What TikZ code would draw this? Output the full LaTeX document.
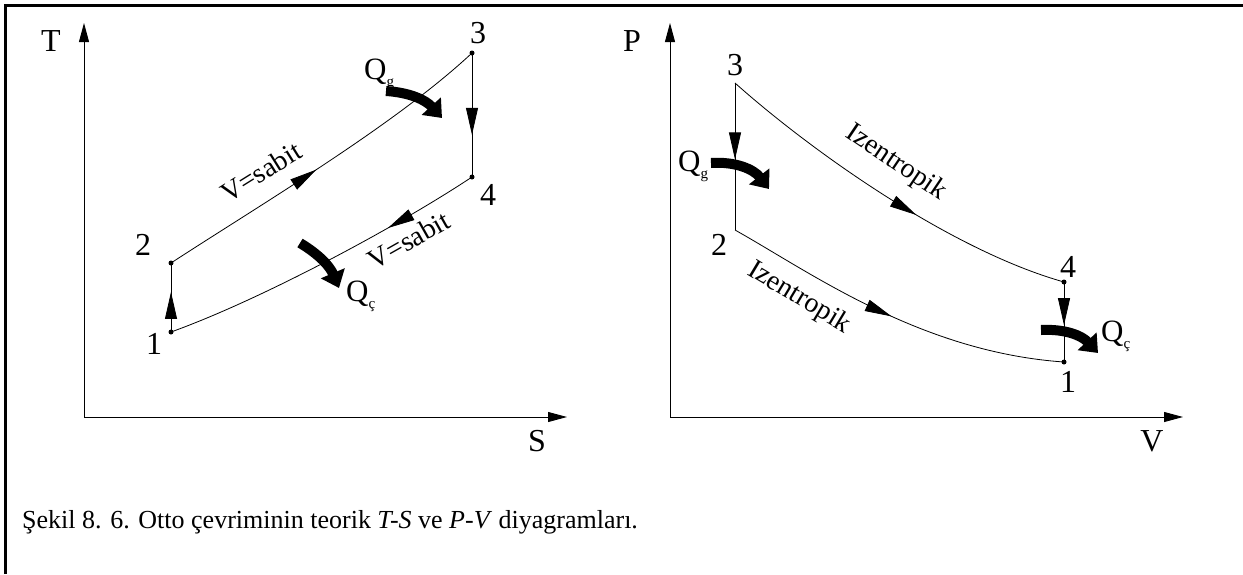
\documentclass[tikz,border=0pt]{standalone}
\usepackage{fontspec}
\setmainfont{Liberation Serif}
\usetikzlibrary{arrows.meta,decorations.markings}
\newcommand{\qsub}[1]{\raisebox{-0.5ex}{\fontsize{15}{16}\selectfont #1}}
\begin{document}
\begin{tikzpicture}[x=1pt,y=-1pt,
  ax/.style={line width=0.9pt,-{Triangle[length=19pt,width=10pt]}},
  cyc/.style={line width=0.8pt},
  lbl/.style={font=\fontsize{32}{36}\selectfont, inner sep=0pt},
  qlbl/.style={font=\fontsize{31}{36}\selectfont, inner sep=0pt, anchor=base west},
  rot/.style={font=\fontsize{28}{32}\selectfont, inner sep=0pt},
  dot/.style={circle,fill,inner sep=0pt,minimum size=5pt},
  heat/.style={line width=10pt,-{Triangle[length=16pt,width=25pt]}},
  midarr/.style={postaction={decorate},decoration={markings,mark=at position #1 with {\arrow{Triangle[length=27pt,width=12pt]}}}}
]
\useasboundingbox (0,0) rectangle (1243,574);
% frame
\draw[line width=3pt] (5.5,574) -- (5.5,5.5) -- (1243,5.5);

% ---------- T-S diagram ----------
\coordinate (To) at (84,417);
\coordinate (Tt) at (84,23);
\coordinate (St) at (567,417);
\draw[ax] (To) -- (Tt);
\draw[ax] (To) -- (St);
\node[lbl] (T) at (51,41) {T};
\node[lbl] (S) at (537,441) {S};

\coordinate (L1) at (171,332);
\coordinate (L2) at (171,263);
\coordinate (L3) at (472,53);
\coordinate (L4) at (472,177);
\draw[cyc,midarr=0.58] (L1) -- (L2);
\draw[cyc,midarr=0.47] (L2) .. controls (260,205) and (395,125) .. (L3);
\draw[cyc,midarr=0.66] (L3) -- (L4);
\draw[cyc,midarr=0.29] (L4) .. controls (395,228) and (260,300) .. (L1);
\foreach \p in {L1,L2,L3,L4} \node[dot] at (\p) {};
\node[lbl] (n1) at (154,344) {1};
\node[lbl] (n2) at (143,245) {2};
\node[lbl] (n3) at (478,33) {3};
\node[lbl] (n4) at (488,195) {4};
\node[rot,rotate=32] (vs1) at (261,172) {V=sabit};
\node[rot,rotate=29.5] (vs2) at (409,240) {V=sabit};

\coordinate (qg1a) at (386,91);
\coordinate (qg1b) at (442,118);
\draw[heat] (qg1a) to[bend left=22] (qg1b);
\node[qlbl] (Qg1) at (364,79) {Q\qsub{g}};
\coordinate (qc1a) at (300,243);
\coordinate (qc1b) at (339,288);
\draw[heat] (qc1a) to[bend left=18] (qc1b);
\node[qlbl] (Qc1) at (346,301) {Q\qsub{ç}};

% ---------- P-V diagram ----------
\coordinate (Po) at (670,417);
\coordinate (Pt) at (670,23);
\coordinate (Vt) at (1183,417);
\draw[ax] (Po) -- (Pt);
\draw[ax] (Po) -- (Vt);
\node[lbl] (P) at (632,41) {P};
\node[lbl] (V) at (1152,441) {V};

\coordinate (R1) at (1064,362);
\coordinate (R2) at (735,230);
\coordinate (R3) at (735,83);
\coordinate (R4) at (1064,282);
\draw[cyc,midarr=0.52] (R3) -- (R2);
\draw[cyc,midarr=0.5] (R2) .. controls (810,272) and (920,352) .. (R1);
\draw[cyc,midarr=0.54] (R4) -- (R1);
\draw[cyc,midarr=0.58] (R3) .. controls (810,150) and (950,250) .. (R4);
\foreach \p in {R1,R4} \node[dot] at (\p) {};
\node[lbl] (m1) at (1068,382) {1};
\node[lbl] (m2) at (719,245) {2};
\node[lbl] (m3) at (735,65) {3};
\node[lbl] (m4) at (1068,267) {4};
\node[rot,rotate=-34] (iz1) at (896,163) {Izentropik};
\node[rot,rotate=-31] (iz2) at (799,298) {Izentropik};

\coordinate (qg2a) at (711,163);
\coordinate (qg2b) at (769,189);
\draw[heat] (qg2a) to[bend left=28] (qg2b);
\node[qlbl] (Qg2) at (678,171) {Q\qsub{g}};
\coordinate (qc2a) at (1041,330);
\coordinate (qc2b) at (1098,353);
\draw[heat] (qc2a) to[bend left=25] (qc2b);
\node[qlbl] (Qc2) at (1101,341) {Q\qsub{ç}};

% caption
\node[anchor=base west,font=\fontsize{26}{30}\selectfont,inner sep=0pt] (cap) at (22,528)
  {Şekil 8. 6. Otto çevriminin teorik \textit{T-S} ve \textit{P-V} diyagramları.};
\end{tikzpicture}
\end{document}
